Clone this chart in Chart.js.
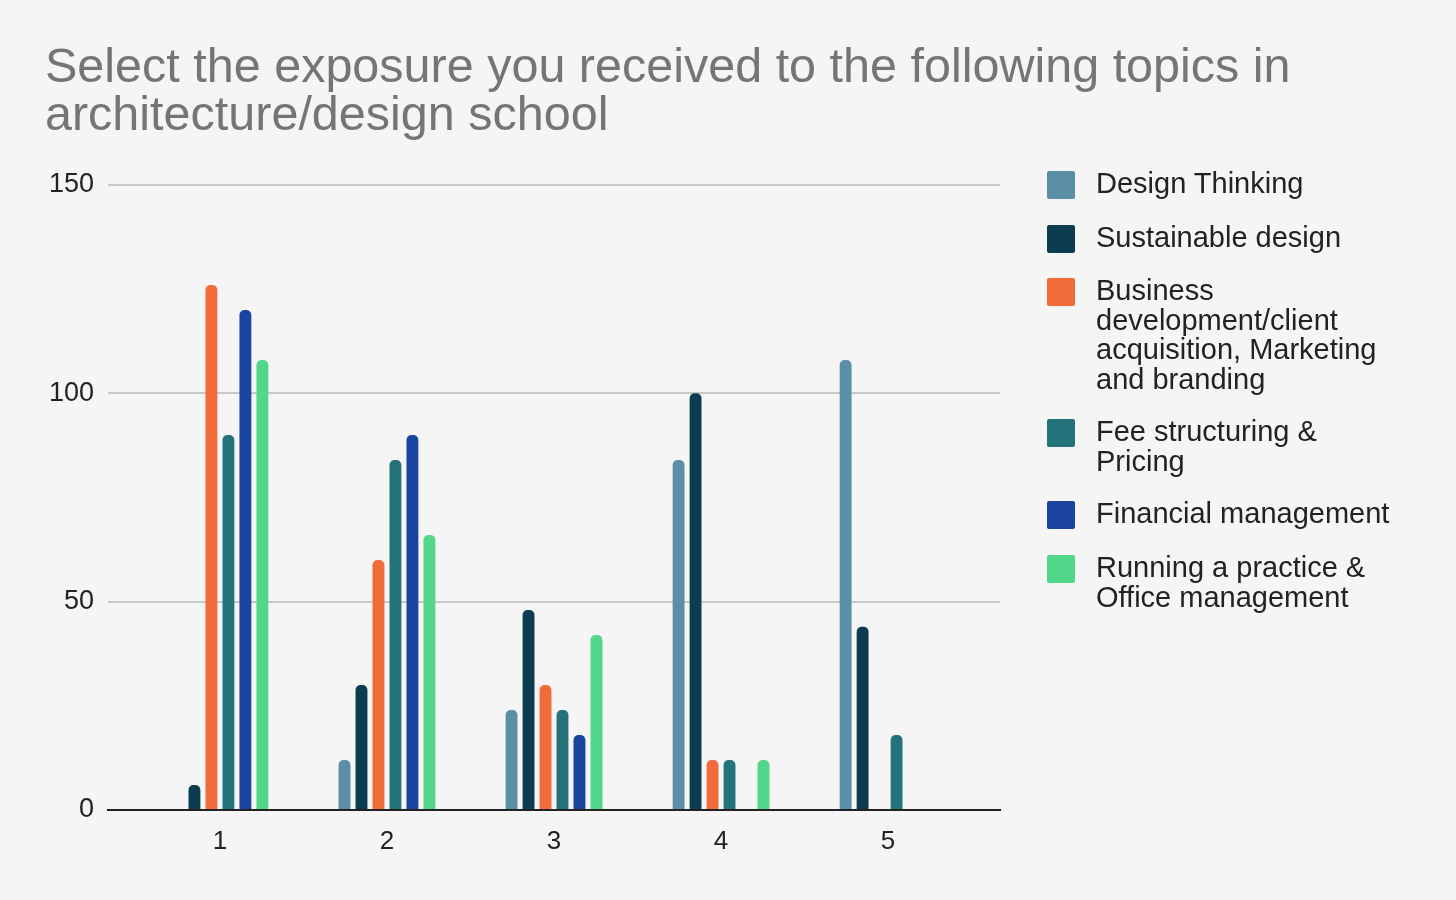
<!DOCTYPE html>
<html><head><meta charset="utf-8">
<script src="https://cdn.jsdelivr.net/npm/chart.js@4"></script>
<style>
body{margin:0;background:#f5f5f5;font-family:Arial,"Liberation Sans",sans-serif;}
#title{position:absolute;left:45px;top:41px;font-size:48.5px;line-height:48px;color:#757575;}
#wrap{position:absolute;left:0;top:0;width:1456px;height:900px;}
#legend{position:absolute;left:1047px;top:0;width:409px;}
.li{position:absolute;left:0;display:flex;}
.sw{width:28px;height:28px;border-radius:2px;flex:none;}
.tx{margin-left:21px;font-size:29px;line-height:29.5px;color:#222;width:302px;margin-top:-2px;}
</style></head><body>
<div id="wrap"><canvas id="c" width="1456" height="900"></canvas></div>
<div id="title">Select the exposure you received to the following topics in<br>architecture/design school</div>
<div id="legend"></div>
<script>
const categories=[1,2,3,4,5];
const seriesNames=["Design Thinking","Sustainable design","Business development/client acquisition, Marketing and branding","Fee structuring & Pricing","Financial management","Running a practice & Office management"];
const colors=["#5b8fa8","#0b3c50","#f26b3a","#24727a","#1a44a0","#52d68a"];
const designThinking=[0,12,24,84,108];
const sustainable=[6,30,48,100,44];
const business=[126,60,30,12,0];
const fee=[90,84,24,12,18];
const financial=[120,90,18,0,0];
const running=[108,66,42,12,0];
const yTicks=[0,50,100,150];
const allData=[designThinking,sustainable,business,fee,financial,running];
const legendTops=[171,225,278,419,501,555];
const lg=document.getElementById('legend');
seriesNames.forEach((n,i)=>{const d=document.createElement('div');d.className='li';d.style.top=legendTops[i]+'px';
d.innerHTML='<div class="sw" style="background:'+colors[i]+'"></div><div class="tx"></div>';d.querySelector('.tx').textContent=n;lg.appendChild(d);});
new Chart(document.getElementById('c'),{type:'bar',
data:{datasets:allData.map((d,i)=>({label:seriesNames[i],data:d.map((v,j)=>({x:categories[j],y:v})),backgroundColor:colors[i],borderRadius:{topLeft:5,topRight:5},borderSkipped:'bottom',categoryPercentage:0.61,barPercentage:0.7}))},
options:{responsive:false,animation:false,devicePixelRatio:1,
layout:{padding:{left:0,right:456,top:185,bottom:40}},
plugins:{legend:{display:false},tooltip:{enabled:false}},
scales:{
x:{type:'linear',min:0.33,max:5.67,offset:false,afterBuildTicks:s=>{s.ticks=categories.map(v=>({value:v}));},
grid:{display:false},border:{display:true,color:'#222',width:2},ticks:{color:'#222',font:{size:26,family:'Arial'},padding:8,includeBounds:false},afterFit:s=>{s.height=50;}},
y:{min:0,max:150,afterBuildTicks:s=>{s.ticks=yTicks.map(v=>({value:v}));},border:{display:false},
grid:{color:c=>c.tick.value===0?'rgba(0,0,0,0)':'#c8c8c8',lineWidth:2,drawTicks:false},
ticks:{color:'#222',font:{size:27,family:'Arial'},padding:14},afterFit:s=>{s.width=108;}}
}}});
</script></body></html>
